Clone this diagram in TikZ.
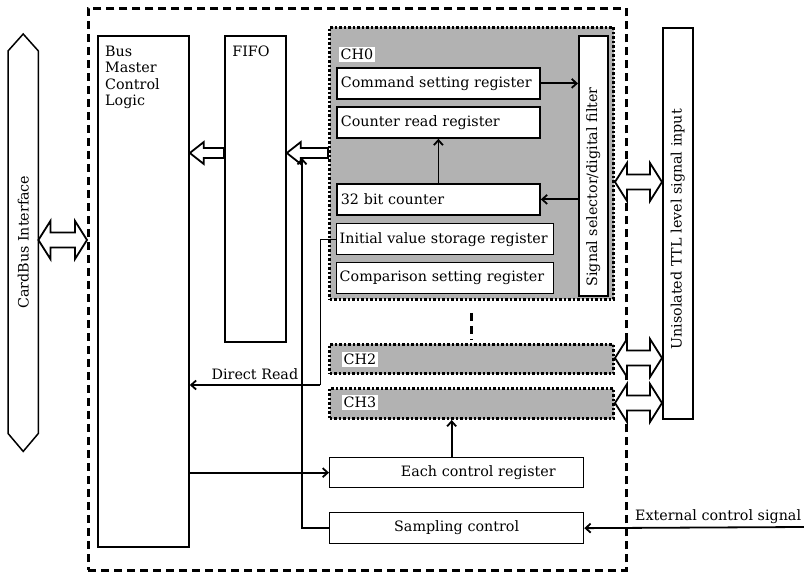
\documentclass[tikz,border=0pt]{standalone}
\usepackage{fontspec}
\setmainfont{DejaVu Serif}
\usetikzlibrary{calc,positioning,arrows.meta}
\newcommand{\Txt}{\fontsize{14.3}{16.2}\selectfont}

\tikzset{
  blk/.style={draw, line width=1.8pt, fill=white, anchor=north west, inner xsep=4pt, inner ysep=0pt, align=left},
  chan/.style={draw, fill=black!30, line width=3pt, dash pattern=on 2.5pt off 2pt, anchor=north west, inner sep=0pt},
  tag/.style={fill=white, anchor=north west, inner xsep=1.5pt, inner ysep=2pt},
  conn/.style={line width=1.8pt, -{Straight Barb[length=5pt,width=9pt]}},
  fat/.style={draw, line width=1.8pt, fill=white, line join=miter},
}

% wide two-headed bus arrow between two nodes, at height #3
\newcommand{\fatboth}[3]{%
  \draw[fat] let \p1=(#1.east), \p2=(#2.west), \p3=(0,#3) in
    (\x1,\y3) -- (\x1+12pt,\y3+19pt) -- (\x1+12pt,\y3+7.5pt) -- (\x2-12pt,\y3+7.5pt)
    -- (\x2-12pt,\y3+19pt) -- (\x2,\y3) -- (\x2-12pt,\y3-19pt) -- (\x2-12pt,\y3-7.5pt)
    -- (\x1+12pt,\y3-7.5pt) -- (\x1+12pt,\y3-19pt) -- cycle;}
% wide one-headed arrow pointing left
\newcommand{\fatleft}[3]{%
  \draw[fat] let \p1=(#1.east), \p2=(#2.west), \p3=(0,#3) in
    (\x1,\y3) -- (\x1+14pt,\y3+11pt) -- (\x1+14pt,\y3+5pt) -- (\x2,\y3+5pt)
    -- (\x2,\y3-5pt) -- (\x1+14pt,\y3-5pt) -- (\x1+14pt,\y3-11pt) -- cycle;}

\begin{document}
\begin{tikzpicture}[x=1pt,y=-1pt,font=\Txt]
  \useasboundingbox (0,0) rectangle (804,572);

  % board outline
  \node[draw, line width=2.6pt, dash pattern=on 8pt off 5pt, anchor=north west,
        minimum width=538pt, minimum height=562pt, inner sep=0pt] (board) at (87,7) {};

  % card bus side
  \node[minimum width=30pt, minimum height=382pt, inner sep=0pt, anchor=north west] (cardbus) at (8,51) {};
  \draw[line width=1.5pt] (cardbus.north west) -- ([yshift=17pt]cardbus.north) -- (cardbus.north east)
    -- (cardbus.south east) -- ([yshift=-18pt]cardbus.south) -- (cardbus.south west) -- cycle;
  \node[rotate=90] (cbtxt) at (cardbus.center) {CardBus Interface};

  % main blocks
  \node[blk, minimum width=91pt, minimum height=511pt] (bus) at (97,35) {};
  \node[anchor=north west, align=left, inner sep=0pt] (bustxt) at (105,46) {Bus\\Master\\Control\\Logic};
  \node[blk, minimum width=61pt, minimum height=306pt] (fifo) at (224,35) {};
  \node[anchor=north, inner sep=0pt] (fifotxt) at (251,46) {FIFO};

  % channel 0
  \node[chan, minimum width=284pt, minimum height=272pt] (ch0) at (328,26) {};
  \node[tag] (ch0lbl) at ([xshift=11pt,yshift=-21pt]ch0.north west) {CH0};
  \node[blk, minimum width=203pt, minimum height=31pt, text width=195pt] (cmd) at (336,67) {Command setting register};
  \node[blk, minimum width=203pt, minimum height=31pt, text width=195pt] (rd) at (336,106) {Counter read register};
  \node[blk, minimum width=203pt, minimum height=31pt, text width=195pt] (cnt) at (336,183) {32 bit counter};
  \node[blk, line width=1.4pt, inner xsep=3pt, minimum width=217pt, minimum height=31pt, text width=211pt] (init) at (336,223) {Initial value storage register};
  \node[blk, line width=1.4pt, inner xsep=3pt, minimum width=217pt, minimum height=31pt, text width=211pt] (cmp) at (336,262) {Comparison setting register};
  \node[blk, minimum width=29pt, minimum height=260pt] (sig) at (578,35) {};
  \node[rotate=90] (sigtxt) at ([yshift=-21pt]sig.center) {Signal selector/digital filter};

  % channels 2, 3
  \draw[line width=2.6pt, dash pattern=on 8pt off 5pt] ([yshift=-12pt]ch0.south) -- ++(0,27);
  \node[chan, minimum width=284pt, minimum height=29pt] (ch2) at (328,343) {};
  \node[tag] (ch2lbl) at ([xshift=14pt,yshift=-9pt]ch2.north west) {CH2};
  \node[chan, minimum width=284pt, minimum height=30pt] (ch3) at (328,387) {};
  \node[tag] (ch3lbl) at ([xshift=14pt,yshift=-8pt]ch3.north west) {CH3};

  % control
  \node[blk, line width=1.3pt, align=right, inner xsep=28pt, text width=198pt, minimum width=254pt, minimum height=30pt] (ctrl) at (329,457) {Each control register};
  \node[blk, line width=1.3pt, align=center, text width=246pt, minimum width=254pt, minimum height=31pt] (samp) at (329,512) {Sampling control};

  % I/O
  \node[blk, minimum width=30pt, minimum height=391pt] (ttl) at (662,27) {};
  \node[rotate=90] (ttltxt) at ([yshift=-6pt]ttl.center) {Unisolated TTL level signal input};

  % buses
  \fatboth{cardbus}{board}{240}
  \fatleft{bus}{fifo}{153}
  \fatleft{fifo}{ch0}{153}
  \fatboth{ch0}{ttl}{182}
  \fatboth{ch2}{ttl}{358}
  \fatboth{ch3}{ttl}{403}

  % signals
  \coordinate (tap) at (302,158);
  \coordinate (dr) at (320,385);
  \coordinate (ext) at (804,527);
  \draw[conn] (cmd.east) -- (cmd.east -| sig.west);
  \draw[conn] (sig.west |- cnt.east) -- (cnt.east);
  \draw[conn] (cnt.north) -- (rd.south);
  \draw[line width=0.9pt] (init.west) -| (dr);
  \draw[conn] (dr) -- (dr -| bus.east) node[midway, above=1pt] {Direct Read};
  \draw[conn] (bus.east |- ctrl.west) -- (ctrl.west);
  \draw[conn] ([xshift=-5pt]ctrl.north) -- ([xshift=-5pt]ctrl.north |- ch3.south);
  \draw[conn] (samp.west) -| (tap);
  \draw[conn] (ext) -- (samp.east) node[pos=0, anchor=south east, inner sep=2pt] {External control signal};
\end{tikzpicture}
\end{document}
